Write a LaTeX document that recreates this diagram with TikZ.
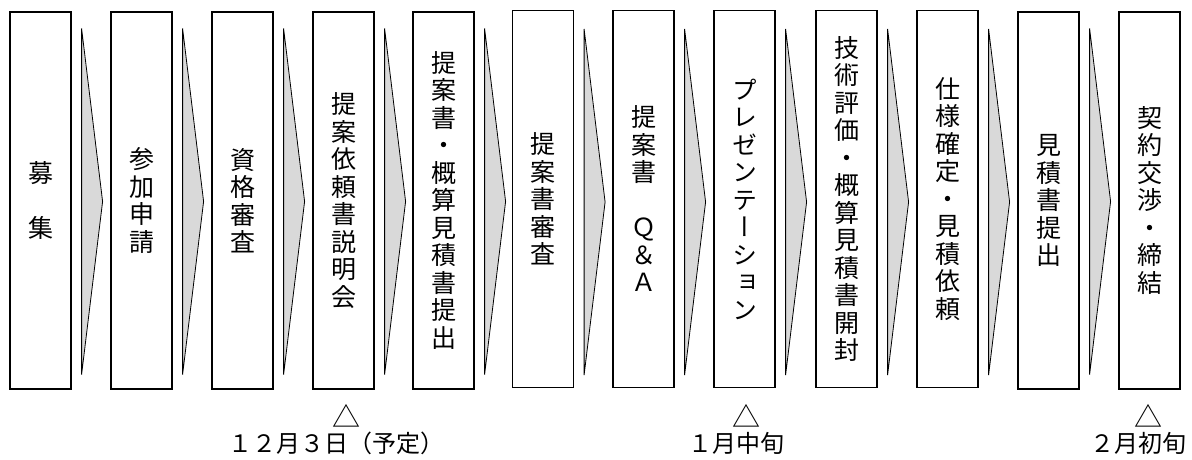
\documentclass[tikz,border=0pt]{standalone}
\usepackage{fontspec}
\newfontfamily\jp{Noto Sans CJK JP}
\newfontfamily\jpv[RawFeature=+vert]{Noto Sans CJK JP}
\usepackage{tikz}
\usetikzlibrary{positioning}
\definecolor{chevgray}{HTML}{D9D9D9}

\begin{document}
\begin{tikzpicture}[x=1pt, y=-1pt,
  stepbox/.style={draw, line width=1.2pt, minimum width=61pt, minimum height=377pt,
    inner sep=0pt, align=center, font=\jpv\fontsize{25}{27.5}\selectfont},
  chevron/.style={draw, line width=0.8pt, fill=chevgray},
  datemark/.style={inner sep=0pt, font=\jp\fontsize{28}{28}\selectfont},
  datelabel/.style={inner sep=0pt, font=\jp\fontsize{24}{26}\selectfont}]
\useasboundingbox (0,0) rectangle (1192,459);

% Process steps
\node[stepbox] (p1) at (40.5,200.5) {募\\　\\集};
\node[stepbox] (p2) at (141.5,200.5) {参\\加\\申\\請};
\node[stepbox] (p3) at (242.5,200.5) {資\\格\\審\\査};
\node[stepbox] (p4) at (343.5,200.5) {提\\案\\依\\頼\\書\\説\\明\\会};
\node[stepbox] (p5) at (443.5,200.5) {提\\案\\書\\・\\概\\算\\見\\積\\書\\提\\出};
\node[stepbox] (p6) at (543,199) {提\\案\\書\\審\\査};
\node[stepbox] (p7) at (643.5,199) {提\\案\\書\\　\\Ｑ\\＆\\Ａ};
\node[stepbox] (p8) at (744.5,199) {プ\\レ\\ゼ\\ン\\テ\\ー\\シ\\ョ\\ン};
\node[stepbox] (p9) at (846.5,199) {技\\術\\評\\価\\・\\概\\算\\見\\積\\書\\開\\封};
\node[stepbox] (p10) at (947.5,199) {仕\\様\\確\\定\\・\\見\\積\\依\\頼};
\node[stepbox] (p11) at (1048.5,200.5) {見\\積\\書\\提\\出};
\node[stepbox] (p12) at (1149.5,200.5) {契\\約\\交\\渉\\・\\締\\結};

% Chevrons between steps
\draw[chevron] ([xshift=10pt,yshift=172pt]p1.east) -- ([xshift=31pt,yshift=-1pt]p1.east) -- ([xshift=10pt,yshift=-174pt]p1.east) -- cycle;
\draw[chevron] ([xshift=10pt,yshift=172pt]p2.east) -- ([xshift=31pt,yshift=-1pt]p2.east) -- ([xshift=10pt,yshift=-174pt]p2.east) -- cycle;
\draw[chevron] ([xshift=10pt,yshift=172pt]p3.east) -- ([xshift=31pt,yshift=-1pt]p3.east) -- ([xshift=10pt,yshift=-174pt]p3.east) -- cycle;
\draw[chevron] ([xshift=10pt,yshift=172pt]p4.east) -- ([xshift=31pt,yshift=-1pt]p4.east) -- ([xshift=10pt,yshift=-174pt]p4.east) -- cycle;
\draw[chevron] ([xshift=10pt,yshift=172pt]p5.east) -- ([xshift=31pt,yshift=-1pt]p5.east) -- ([xshift=10pt,yshift=-174pt]p5.east) -- cycle;
\draw[chevron] ([xshift=10pt,yshift=170pt]p6.east) -- ([xshift=31pt,yshift=-3pt]p6.east) -- ([xshift=10pt,yshift=-176pt]p6.east) -- cycle;
\draw[chevron] ([xshift=10pt,yshift=170pt]p7.east) -- ([xshift=31pt,yshift=-3pt]p7.east) -- ([xshift=10pt,yshift=-176pt]p7.east) -- cycle;
\draw[chevron] ([xshift=10pt,yshift=170pt]p8.east) -- ([xshift=31pt,yshift=-3pt]p8.east) -- ([xshift=10pt,yshift=-176pt]p8.east) -- cycle;
\draw[chevron] ([xshift=10pt,yshift=170pt]p9.east) -- ([xshift=31pt,yshift=-3pt]p9.east) -- ([xshift=10pt,yshift=-176pt]p9.east) -- cycle;
\draw[chevron] ([xshift=10pt,yshift=170pt]p10.east) -- ([xshift=31pt,yshift=-3pt]p10.east) -- ([xshift=10pt,yshift=-176pt]p10.east) -- cycle;
\draw[chevron] ([xshift=10pt,yshift=172pt]p11.east) -- ([xshift=31pt,yshift=-1pt]p11.east) -- ([xshift=10pt,yshift=-174pt]p11.east) -- cycle;

% Milestones
\node[datemark] (m1) at (346,416) {△};
\node[datemark] (m2) at (746,416) {△};
\node[datemark] (m3) at (1148,416) {△};
\node[datelabel] (d1) at (336,443) {１２月３日（予定）};
\node[datelabel] (d2) at (736,443) {１月中旬};
\node[datelabel] (d3) at (1138,443) {２月初旬};
\end{tikzpicture}
\end{document}
